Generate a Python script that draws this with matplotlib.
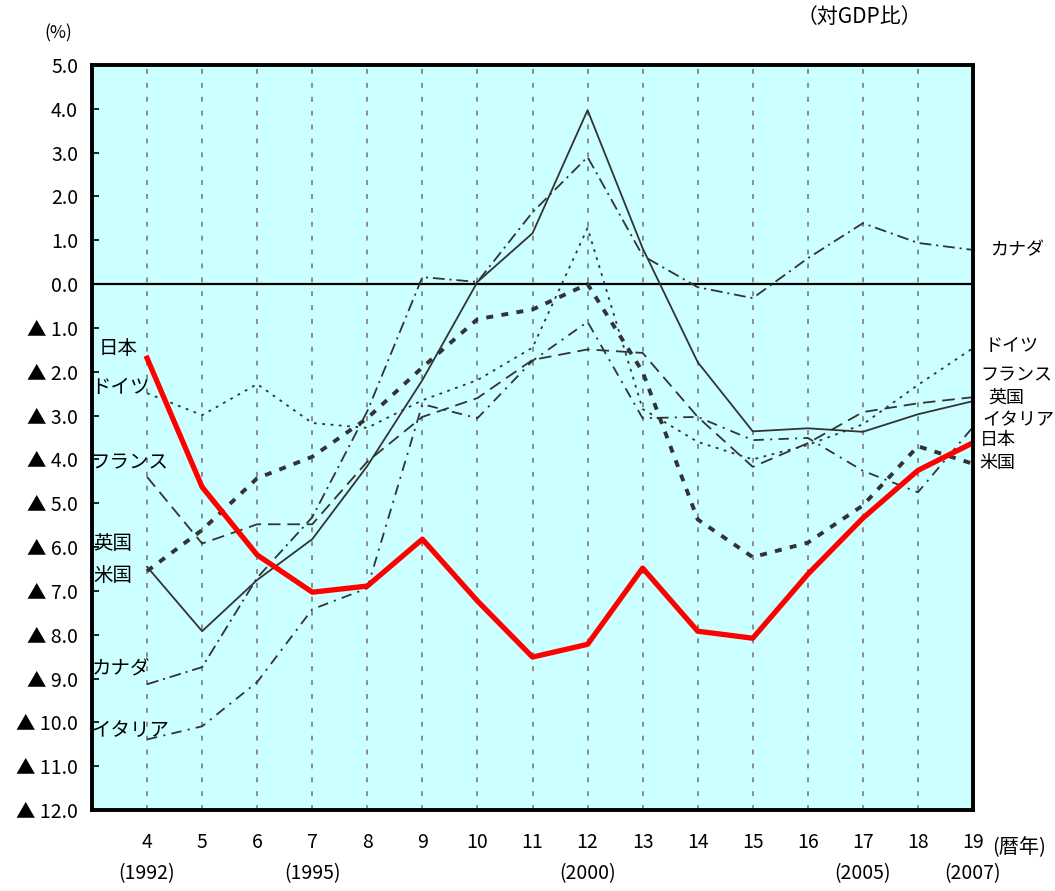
import matplotlib
matplotlib.use("Agg")
matplotlib.rcParams["font.family"] = ["Noto Sans CJK JP", "DejaVu Sans"]
matplotlib.rcParams["font.size"] = 14
matplotlib.rcParams["lines.scale_dashes"] = False
import matplotlib.pyplot as plt
from matplotlib.transforms import blended_transform_factory

# calendar years (Heisei 4 .. 19)
years = list(range(4, 20))
year_notes = ["(1992)", "", "", "(1995)", "", "", "", "", "(2000)",
              "", "", "", "", "(2005)", "", "(2007)"]
yticks = list(range(-12, 6))

# fiscal balance, % of GDP
japan = [-1.69, -4.63, -6.18, -7.03, -6.89, -5.82, -7.23, -8.51,
         -8.22, -6.48, -7.92, -8.08, -6.62, -5.34, -4.25, -3.62]
usa = [-6.55, -5.61, -4.43, -3.94, -3.06, -1.90, -0.80, -0.58,
       0.00, -2.00, -5.37, -6.23, -5.90, -5.05, -3.70, -4.10]
uk = [-6.45, -7.92, -6.75, -5.82, -4.15, -2.19, 0.05, 1.16,
      3.97, 0.82, -1.78, -3.36, -3.29, -3.37, -2.97, -2.67]
germany = [-2.49, -2.99, -2.28, -3.17, -3.28, -2.65, -2.19, -1.45,
           1.28, -2.85, -3.60, -4.00, -3.67, -3.20, -2.30, -1.46]
france = [-4.40, -5.92, -5.48, -5.48, -4.05, -3.03, -2.60, -1.73,
          -1.49, -1.57, -3.03, -4.17, -3.63, -2.92, -2.72, -2.58]
italy = [-10.39, -10.09, -9.08, -7.42, -6.94, -2.74, -3.06, -1.75,
         -0.86, -3.06, -3.03, -3.56, -3.51, -4.26, -4.75, -3.26]
canada = [-9.13, -8.74, -6.70, -5.32, -2.90, 0.16, 0.05, 1.64,
          2.90, 0.65, -0.07, -0.32, 0.59, 1.39, 0.94, 0.78]

line_col = "#333333"


def ytick_label(v):
    if v < 0:
        return "▲ %.1f" % abs(v)
    return "%.1f" % v


if __name__ == "__main__":
    fig = plt.figure(figsize=(10.55, 8.91), dpi=100)
    ax = fig.add_axes([92 / 1055, 1 - 810 / 891, 881 / 1055, 745 / 891])
    ax.set_facecolor("#ccffff")
    ax.set_xlim(3, 19)
    ax.set_ylim(-12, 5)

    # vertical grid and zero line
    for x in years[:-1]:
        ax.axvline(x, color="#8c8c8c", lw=1.4, linestyle=(0, (3.5, 6.5)), zorder=1)
    ax.axhline(0, color="black", lw=1.6, zorder=2)

    ax.plot(years, canada, color=line_col, lw=1.3, linestyle=(0, (8.5, 3.5, 1.5, 3.5)))
    ax.plot(years, italy, color=line_col, lw=1.3, linestyle=(0, (7.5, 4.5, 1.5, 4.5)))
    ax.plot(years, france, color=line_col, lw=1.3, linestyle=(0, (9, 5)))
    ax.plot(years, germany, color=line_col, lw=1.3, linestyle=(0, (2, 4)))
    ax.plot(years, uk, color=line_col, lw=1.3)
    ax.plot(years, usa, color=line_col, lw=2.8, linestyle=(0, (5, 6)))
    ax.plot(years, japan, color="#ff0000", lw=3.8, zorder=5)

    # country labels, left side
    lbl = dict(fontsize=14, va="center", ha="left", zorder=3)
    ax.text(3.12, -1.46, "日本", **lbl)
    ax.text(2.99, -2.37, "ドイツ", **lbl)
    ax.text(2.97, -4.08, "フランス", **lbl)
    ax.text(3.03, -5.91, "英国", **lbl)
    ax.text(3.03, -6.64, "米国", **lbl)
    ax.text(2.99, -8.76, "カナダ", **lbl)
    ax.text(2.99, -10.18, "イタリア", **lbl)

    # country labels, right side
    lbr = dict(fontsize=13, va="center", ha="left", clip_on=False)
    ax.text(19.31, 0.78, "カナダ", **lbr)
    ax.text(19.22, -1.41, "ドイツ", **lbr)
    ax.text(19.14, -2.08, "フランス", **lbr)
    ax.text(19.27, -2.60, "英国", **lbr)
    ax.text(19.17, -3.10, "イタリア", **lbr)
    ax.text(19.12, -3.56, "日本", **lbr)
    ax.text(19.12, -4.08, "米国", **lbr)

    ax.set_yticks(yticks)
    ax.set_yticklabels([ytick_label(v) for v in yticks])
    ax.set_xticks(years)
    ax.set_xticklabels([str(y) for y in years])
    ax.tick_params(axis="y", direction="in", length=5, width=1.2, pad=10)
    ax.tick_params(axis="x", length=0, pad=16)

    trans = blended_transform_factory(ax.transData, ax.transAxes)
    for y, note in zip(years, year_notes):
        if note:
            ax.text(y, -0.085, note, transform=trans, ha="center", va="center")

    for s in ax.spines.values():
        s.set_linewidth(2.8)
        s.set_zorder(6)

    fig.text(44 / 1055, 1 - 33 / 891, "(%)", fontsize=12.5, va="center")
    fig.text(797 / 1055, 1 - 17 / 891, "（対GDP比）", fontsize=15, va="center")
    fig.text(992 / 1055, 1 - 848 / 891, "(暦年)", fontsize=14.5, va="center")

    fig.savefig("out.png", dpi=100)
